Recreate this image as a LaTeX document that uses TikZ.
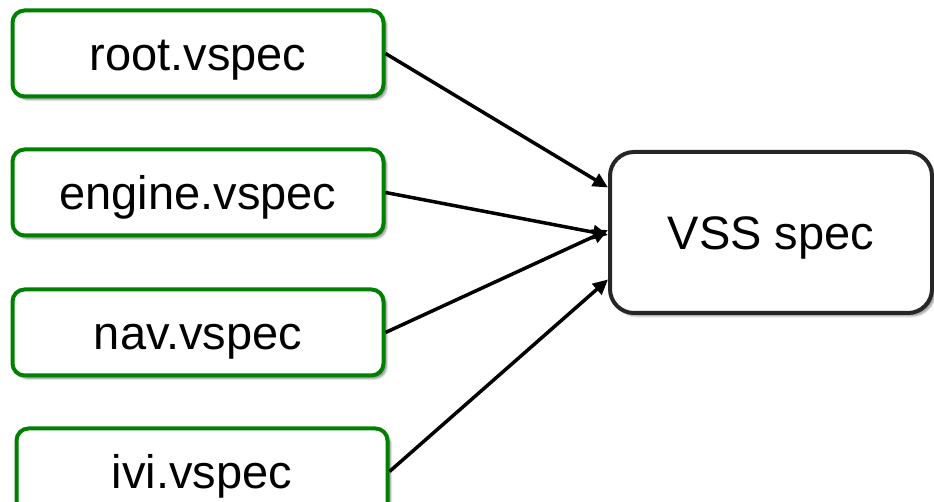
\documentclass[tikz,border=0pt]{standalone}
\usepackage{fontspec}
\setmainfont{Liberation Sans}
\usepackage{tikz}
\usetikzlibrary{arrows.meta,positioning,calc,shadows.blur}

\begin{document}
\begin{tikzpicture}[
  file/.style={draw=green!50!black, line width=4pt, rounded corners=12pt, fill=white,
    minimum width=371pt, minimum height=86pt, inner sep=0pt, text height=36pt, text depth=1pt,
    font=\fontsize{47}{56}\selectfont,
    blur shadow={shadow xshift=3pt, shadow yshift=-3pt, shadow blur steps=6, shadow opacity=45}},
  spec/.style={draw=black!85, line width=4pt, rounded corners=24pt, fill=white,
    minimum width=322pt, minimum height=161pt, inner sep=0pt, text height=36pt, text depth=1pt,
    font=\fontsize{47}{56}\selectfont,
    blur shadow={shadow xshift=3pt, shadow yshift=-3pt, shadow blur steps=6, shadow opacity=45}},
  link/.style={->, line width=3.5pt},
  >={Triangle[length=15pt,width=14pt]}]
\useasboundingbox (0,0) rectangle (934pt,502pt);
\node[file] (root) at (198pt,448.5pt) {root.vspec};
\node[file, below=49pt of root] (engine) {engine.vspec};
\node[file, below=50pt of engine] (nav) {nav.vspec};
\node[file, below=49pt of nav, xshift=4pt] (ivi) {ivi.vspec};
\node[spec] (vss) at (771pt,269.5pt) {VSS spec};
\draw[link] (root.east) -- ([yshift=45pt]vss.west);
\draw[link] (engine.east) -- ([yshift=-2.5pt]vss.west);
\draw[link] (nav.east) -- ([yshift=2.5pt]vss.west);
\draw[link] (ivi.east) -- ([yshift=-47pt]vss.west);
\end{tikzpicture}
\end{document}
